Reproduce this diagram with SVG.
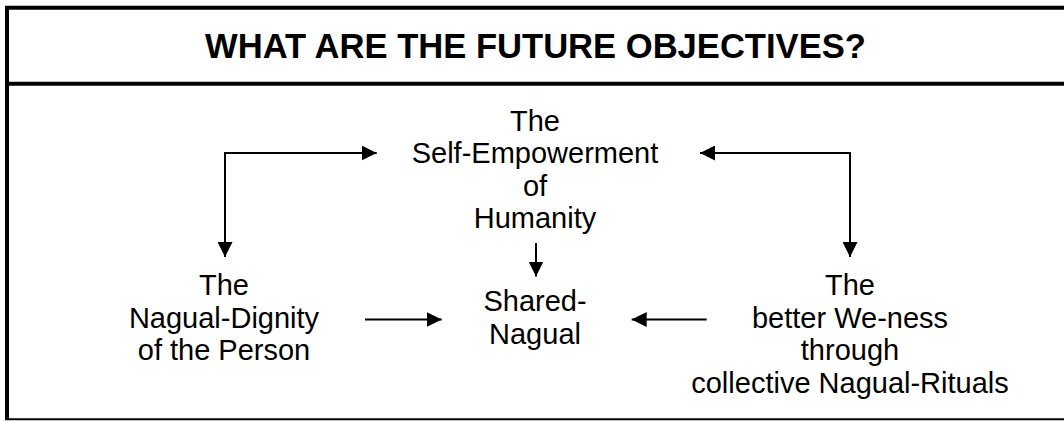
<svg xmlns="http://www.w3.org/2000/svg" width="1064" height="421" viewBox="0 0 1064 421">
<style>
.t{font-family:"Liberation Sans",Arial,sans-serif;font-size:29px;fill:#000;text-anchor:middle}
.title{font-family:"Liberation Sans",Arial,sans-serif;font-size:34.6px;font-weight:bold;fill:#000;text-anchor:middle}
.c{fill:none;stroke:#000;stroke-width:2}
.f{stroke:#000;fill:none}
</style>
<defs>
<marker id="ah" viewBox="0 0 15 15" refX="15" refY="7.5" markerWidth="15" markerHeight="15" markerUnits="userSpaceOnUse" orient="auto-start-reverse">
<path d="M0,0 L15,7.5 L0,15 z" fill="#000"/>
</marker>
</defs>
<g id="frame">
<line class="f" x1="5" y1="7.8" x2="1064" y2="7.8" stroke-width="4"/>
<line class="f" x1="5" y1="83.8" x2="1064" y2="83.8" stroke-width="4"/>
<line class="f" x1="7" y1="6" x2="7" y2="420" stroke-width="4"/>
<line class="f" x1="5" y1="419.3" x2="1064" y2="419.3" stroke-width="2"/>
</g>
<g id="title"><text class="title" x="535.5" y="58">WHAT ARE THE FUTURE OBJECTIVES?</text></g>
<g id="connectors">
<path class="c" d="M376.7,153 H225 V257" marker-start="url(#ah)" marker-end="url(#ah)"/>
<path class="c" d="M700,153 H850 V257" marker-start="url(#ah)" marker-end="url(#ah)"/>
<path class="c" d="M536,243 V276.5" marker-end="url(#ah)"/>
<path class="c" d="M365,319.5 H441.7" marker-end="url(#ah)"/>
<path class="c" d="M706.7,319.5 H631.7" marker-end="url(#ah)"/>
</g>
<g id="node-top">
<text class="t" x="535" y="130.5">The</text>
<text class="t" x="535" y="163">Self-Empowerment</text>
<text class="t" x="535" y="195.5">of</text>
<text class="t" x="535" y="228">Humanity</text>
</g>
<g id="node-left">
<text class="t" x="224" y="295">The</text>
<text class="t" x="224" y="327.5">Nagual-Dignity</text>
<text class="t" x="224" y="360">of the Person</text>
</g>
<g id="node-center">
<text class="t" x="535" y="311">Shared-</text>
<text class="t" x="535" y="343.5">Nagual</text>
</g>
<g id="node-right">
<text class="t" x="850" y="295">The</text>
<text class="t" x="850" y="327.5">better We-ness</text>
<text class="t" x="850" y="360">through</text>
<text class="t" x="850" y="392.5">collective Nagual-Rituals</text>
</g>
</svg>
